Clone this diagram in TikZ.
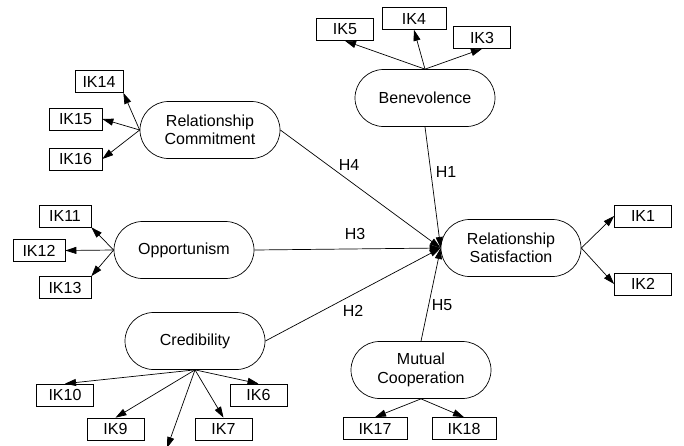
\documentclass[tikz,border=0pt]{standalone}
\usepackage{fontspec}
\setmainfont{Liberation Sans}
\usetikzlibrary{shapes.misc,arrows.meta}

\tikzset{
    latent/.style={draw, rounded rectangle, minimum width=144pt, minimum height=57pt,
        align=center, inner sep=2pt, font=\fontsize{16}{18.5}\selectfont},
    indicator/.style={draw, rectangle, minimum width=57pt, minimum height=22pt,
        inner sep=0pt, font=\fontsize{16}{18.5}\selectfont},
    loading/.style={-{Triangle[length=11pt,width=7pt]}},
    hyp/.style={font=\fontsize{16}{18.5}\selectfont}
}

\begin{document}
\begin{tikzpicture}[x=1pt,y=-1pt,line width=0.7pt]
    \useasboundingbox (0,0) rectangle (684,445);

    % 潜变量
    \node[latent] (ben) at (425,98) {Benevolence};
    \node[latent] (rc) at (210,130) {Relationship\\Commitment};
    \node[latent] (opp) at (184,250) {Opportunism};
    \node[latent] (cred) at (195,341) {Credibility};
    \node[latent] (rs) at (511,248) {Relationship\\Satisfaction};
    \node[latent] (mc) at (421,370) {Mutual\\Cooperation};

    % 指标
    \node[indicator] (ik5) at (345,29.5) {IK5};
    \node[indicator, minimum width=64pt] (ik4) at (414,18.5) {IK4};
    \node[indicator] (ik3) at (482,37.5) {IK3};
    \node[indicator, minimum width=48pt] (ik14) at (99,81.5) {IK14};
    \node[indicator, minimum width=53pt] (ik15) at (75.5,119) {IK15};
    \node[indicator, minimum width=53pt] (ik16) at (75.5,159) {IK16};
    \node[indicator, minimum width=52pt] (ik11) at (65,216) {IK11};
    \node[indicator, minimum width=52pt] (ik12) at (39,250.5) {IK12};
    \node[indicator, minimum width=52pt] (ik13) at (65,287.5) {IK13};
    \node[indicator] (ik10) at (65,395) {IK10};
    \node[indicator] (ik6) at (258.5,395) {IK6};
    \node[indicator] (ik9) at (115.5,429) {IK9};
    \node[indicator] (ik7) at (223.5,429) {IK7};
    \node[indicator] (ik1) at (643,216) {IK1};
    \node[indicator] (ik2) at (643,284) {IK2};
    \node[indicator, minimum width=64pt] (ik17) at (375,428.5) {IK17};
    \node[indicator, minimum width=64pt] (ik18) at (464,428.5) {IK18};
    \coordinate (ik8) at (167,448);

    % 测量路径
    \draw[loading] (ben.north) -- (ik5.south);
    \draw[loading] (ben.north) -- (ik4.south);
    \draw[loading] (ben.north) -- (ik3.south);
    \draw[loading] (rc.west) -- (ik14.south east);
    \draw[loading] (rc.west) -- (ik15.east);
    \draw[loading] (rc.west) -- (ik16.east);
    \draw[loading] (opp.west) -- (ik11.south east);
    \draw[loading] (opp.west) -- (ik12.east);
    \draw[loading] (opp.west) -- (ik13.north east);
    \draw[loading] (cred.south) -- (ik10.north);
    \draw[loading] (cred.south) -- (ik9.north);
    \draw[loading] (cred.south) -- (ik8);
    \draw[loading] (cred.south) -- (ik7.north);
    \draw[loading] (cred.south) -- (ik6.north);
    \draw[loading] (rs.east) -- (ik1.west);
    \draw[loading] (rs.east) -- (ik2.west);
    \draw[loading] (mc.south) -- (ik17.north);
    \draw[loading] (mc.south) -- (ik18.north);

    % 结构路径
    \draw[loading] (ben.south) -- (rs.west);
    \draw[loading] (rc.east) -- (rs.west);
    \draw[loading] (opp.east) -- (rs.west);
    \draw[loading] (cred.east) -- (rs.west);
    \draw[loading] (mc.north) -- (rs.west);

    % 假设标签
    \node[hyp] (h1) at (446,172) {H1};
    \node[hyp] (h4) at (349,165) {H4};
    \node[hyp] (h3) at (355,234) {H3};
    \node[hyp] (h2) at (353,311) {H2};
    \node[hyp] (h5) at (442,305) {H5};
\end{tikzpicture}
\end{document}
